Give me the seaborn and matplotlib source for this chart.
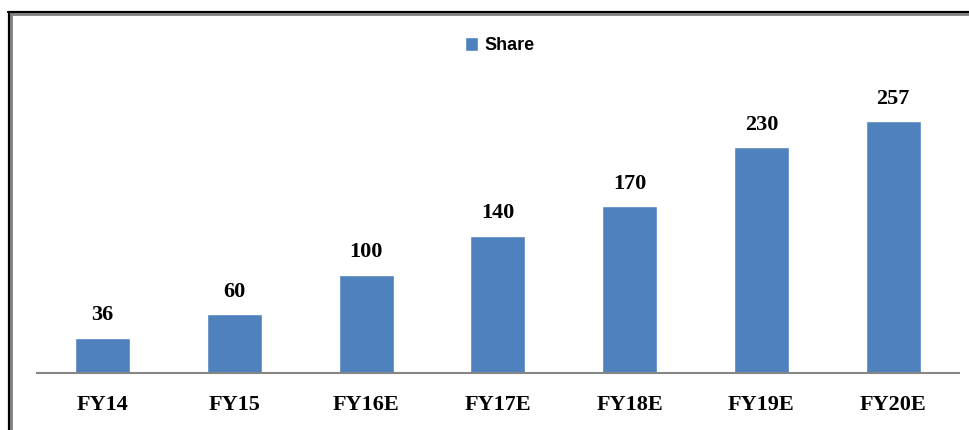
import matplotlib
matplotlib.use("Agg")
import matplotlib.pyplot as plt
from matplotlib.lines import Line2D
import seaborn as sns
import pandas as pd

years = ["FY14", "FY15", "FY16E", "FY17E", "FY18E", "FY19E", "FY20E"]
share = [36, 60, 100, 140, 170, 230, 257]

df = pd.DataFrame({"Year": years, "Share": share})

sns.set_theme(style="white")
plt.rcParams["font.family"] = ["Liberation Serif", "DejaVu Serif"]

W, H = 970, 430
fig = plt.figure(figsize=(W / 100, H / 100), dpi=100)
fig.patch.set_facecolor("white")

# plot area in pixel terms
left_px, right_px, base_px = 36.6, 959.0, 373.0
ymax = 300
px_per_unit = 0.9805
top_px = base_px - ymax * px_per_unit
ax = fig.add_axes([left_px / W, (H - base_px) / H,
                   (right_px - left_px) / W, (base_px - top_px) / H])

bar_color = "#4F81BD"
sns.barplot(data=df, x="Year", y="Share", color=bar_color, width=0.417,
            saturation=1, ax=ax, label="Share")

ax.set_xlim(-0.5, len(years) - 0.5)
ax.set_ylim(0, ymax)
ax.set_xlabel("")
ax.set_ylabel("")
ax.set_yticks([])
for side in ("top", "right", "left"):
    ax.spines[side].set_visible(False)
ax.spines["bottom"].set_color("#868686")
ax.spines["bottom"].set_linewidth(1.5)
ax.tick_params(axis="x", length=0, pad=16)
for t in ax.get_xticklabels():
    t.set_fontsize(16)
    t.set_fontweight("bold")
    t.set_color("black")

for c in ax.containers:
    ax.bar_label(c, labels=[str(v) for v in share], padding=9,
                 fontsize=16, fontweight="bold", color="black")

leg = ax.legend(loc="upper center", bbox_to_anchor=(0.502, (base_px - 30) / (base_px - top_px)),
                frameon=False, handlelength=0.75, handleheight=0.75,
                handletextpad=0.35, borderaxespad=0,
                prop={"family": "Liberation Sans", "weight": "bold", "size": 13})
for t in leg.get_texts():
    t.set_color("black")

# frame lines along the top and left edges
def fx(p):
    return p / W

def fy(p):
    return 1 - p / H

fig.add_artist(Line2D([fx(11.5), 1], [fy(14), fy(14)], color="#808080", lw=2.0))
fig.add_artist(Line2D([fx(11.5), fx(11.5)], [fy(14), 0], color="#808080", lw=2.0))
fig.add_artist(Line2D([fx(8.5), 1], [fy(12), fy(12)], color="black", lw=1.6))
fig.add_artist(Line2D([fx(9), fx(9)], [fy(11.5), 0], color="black", lw=1.6))

fig.savefig("out.png", dpi=100, facecolor="white")
